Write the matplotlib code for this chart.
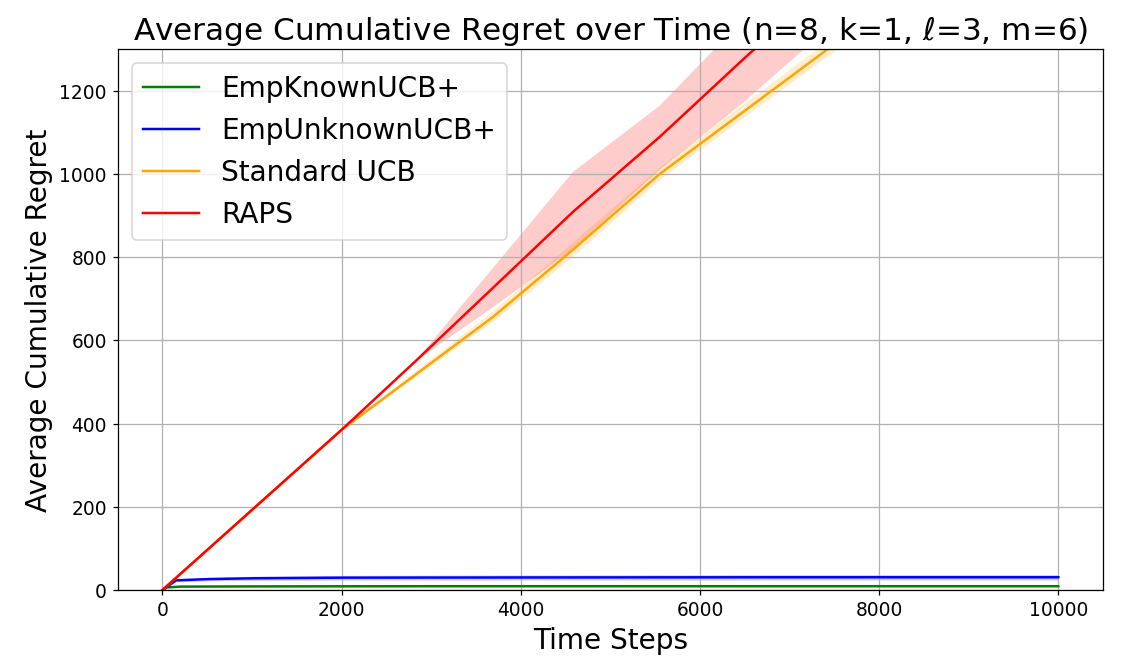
import numpy as np
import matplotlib
matplotlib.use("Agg")
import matplotlib.pyplot as plt

# --- data ---
green_t = [0, 50, 200, 1000, 3000, 6000, 10000]
green_mean = [0, 6, 8, 8.5, 9, 9, 9]
green_std = [0, 1, 1.2, 1.2, 1.2, 1.2, 1.2]

blue_t = [0, 150, 500, 1000, 2000, 4000, 7000, 10000]
blue_mean = [0, 23, 26, 28, 29.5, 30, 30.5, 30.5]
blue_std = [0, 3, 4, 5, 5.5, 6, 6.5, 6.5]

orange_t = [0, 2000, 3693, 4583, 5550, 6475, 7400, 8325, 9250, 10000]
orange_mean = [0, 385, 657, 818, 1000, 1148, 1296, 1440, 1585, 1700]
orange_lo = [0, 383, 645, 800, 985, 1132, 1278, 1420, 1565, 1680]
orange_hi = [0, 387, 670, 835, 1015, 1165, 1314, 1460, 1605, 1720]

red_t = [0, 2000, 2825, 3693, 4583, 5550, 6475, 7400, 8325, 9250, 10000]
red_mean = [0, 385, 550, 727, 909, 1089, 1274, 1455, 1635, 1815, 1960]
red_lo = [0, 385, 550, 680, 820, 1010, 1170, 1345, 1520, 1700, 1845]
red_hi = [0, 385, 550, 775, 1005, 1164, 1370, 1560, 1745, 1930, 2075]

fig, ax = plt.subplots(figsize=(10, 6), dpi=112.1)
fig.subplots_adjust(left=0.105, right=0.984, top=0.926, bottom=0.122)

LW = 1.6
gt = np.array(green_t); gm = np.array(green_mean); gs = np.array(green_std)
ax.plot(gt, gm, color='green', lw=LW, label='EmpKnownUCB+')
ax.fill_between(gt, gm - gs, gm + gs, color='green', alpha=0.2, lw=0)

bt = np.array(blue_t); bm = np.array(blue_mean); bs = np.array(blue_std)
ax.plot(bt, bm, color='blue', lw=LW, label='EmpUnknownUCB+')
ax.fill_between(bt, bm - bs, bm + bs, color='blue', alpha=0.2, lw=0)

ax.plot(orange_t, orange_mean, color='orange', lw=LW, label='Standard UCB')
ax.fill_between(orange_t, orange_lo, orange_hi, color='orange', alpha=0.2, lw=0)

ax.plot(red_t, red_mean, color='red', lw=LW, label='RAPS')
ax.fill_between(red_t, red_lo, red_hi, color='red', alpha=0.2, lw=0)

ax.set_ylim(0, 1300)
ax.set_xlim(-500, 10500)
ax.set_xticks([0, 2000, 4000, 6000, 8000, 10000])
ax.set_yticks([0, 200, 400, 600, 800, 1000, 1200])
ax.tick_params(labelsize=12)
ax.grid(True)
ax.set_title(r'Average Cumulative Regret over Time (n=8, k=1, $\ell$=3, m=6)', fontsize=20)
ax.set_xlabel('Time Steps', fontsize=18)
ax.set_ylabel('Average Cumulative Regret', fontsize=18)
ax.legend(loc='upper left', fontsize=18)

fig.savefig('out.png', dpi=112.1)
